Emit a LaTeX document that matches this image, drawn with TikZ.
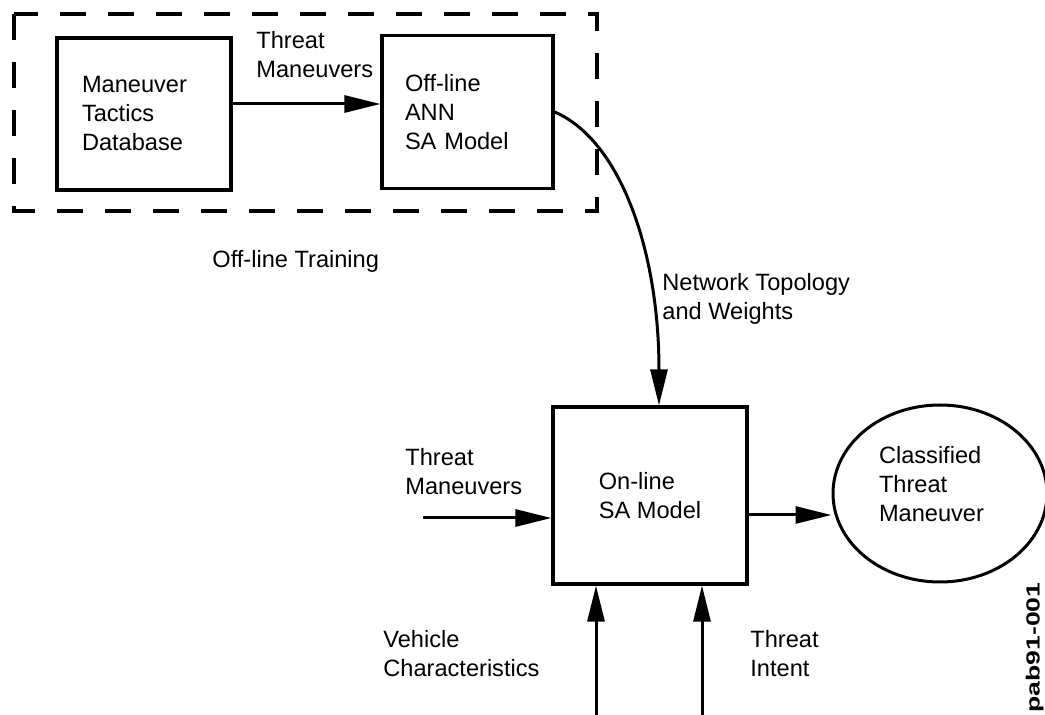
\documentclass[tikz,border=0pt]{standalone}
\usepackage{fontspec}
\setmainfont{Liberation Sans}
\usetikzlibrary{shapes.geometric,arrows.meta}
\newcommand{\diagfont}{\fontsize{11.8}{14.5}\selectfont}

\begin{document}
\begin{tikzpicture}[x=0.5pt,y=-0.5pt,
  every node/.style={font=\diagfont},
  blockbox/.style={draw,line width=1.6pt,align=left,inner sep=0pt},
  txt/.style={align=left,inner sep=0pt,anchor=north west},
  flow/.style={line width=1.5pt,-{Triangle[length=18pt,width=8.5pt]}}]

\useasboundingbox (0,0) rectangle (1045,715);

% Off-line training group
\draw[dash pattern=on 13pt off 11pt,line width=1.7pt] (14,14) rectangle (597,211);

% Blocks
\node[blockbox,minimum width=87pt,minimum height=76pt,text width=62pt] (mtd) at (144,114) {Maneuver\\Tactics\\Database};
\node[blockbox,minimum width=85.5pt,minimum height=76.5pt,text width=62.5pt] (ann) at (467.5,112) {Off-line\\ANN\\SA Model};
\node[blockbox,minimum width=97pt,minimum height=88.5pt] (onl) at (650,495.5) {On-line\\SA Model};
\node[draw,ellipse,line width=1.5pt,minimum width=107pt,minimum height=88.5pt,inner sep=0pt,
      text width=61pt,align=left,text depth=39pt] (cls) at (940,493.5) {Classified\\Threat\\Maneuver};

% Labels
\node[txt] (tmtop) at (256,31) {Threat\\Maneuvers};
\node[inner sep=0pt,anchor=base west] (olt) at (212,268) {Off-line Training};
\node[txt] (ntw) at (662,273) {Network Topology\\and Weights};
\node[txt] (tmin) at (405,448) {Threat\\Maneuvers};
\node[txt] (vch) at (383,630) {Vehicle\\Characteristics};
\node[txt] (tin) at (750,630) {Threat\\Intent};
\node[rotate=90,anchor=south west,inner sep=0pt,font=\bfseries\fontsize{9.5}{10}\selectfont] (pab) at (1044,713) {\scalebox{1.4}[1]{pab91-001}};

% Connectors
\coordinate (mtdout) at ([yshift=5pt]mtd.east);
\coordinate (onlout) at ([yshift=-9.75pt]onl.east);
\coordinate (tmsrc) at (423,518);
\coordinate (vcsrc) at (596,715);
\coordinate (tisrc) at (702,715);

\draw[flow] (mtdout) -- (mtdout -| ann.west);
\draw[flow] (ann.east) .. controls (620,140) and (659,250) .. ([xshift=4.5pt]onl.north);
\draw[flow] (tmsrc) -- (tmsrc -| onl.west);
\draw[flow] (onlout) -- (onlout -| cls.west);
\draw[flow] (vcsrc) -- (vcsrc |- onl.south);
\draw[flow] (tisrc) -- (tisrc |- onl.south);

\end{tikzpicture}
\end{document}
